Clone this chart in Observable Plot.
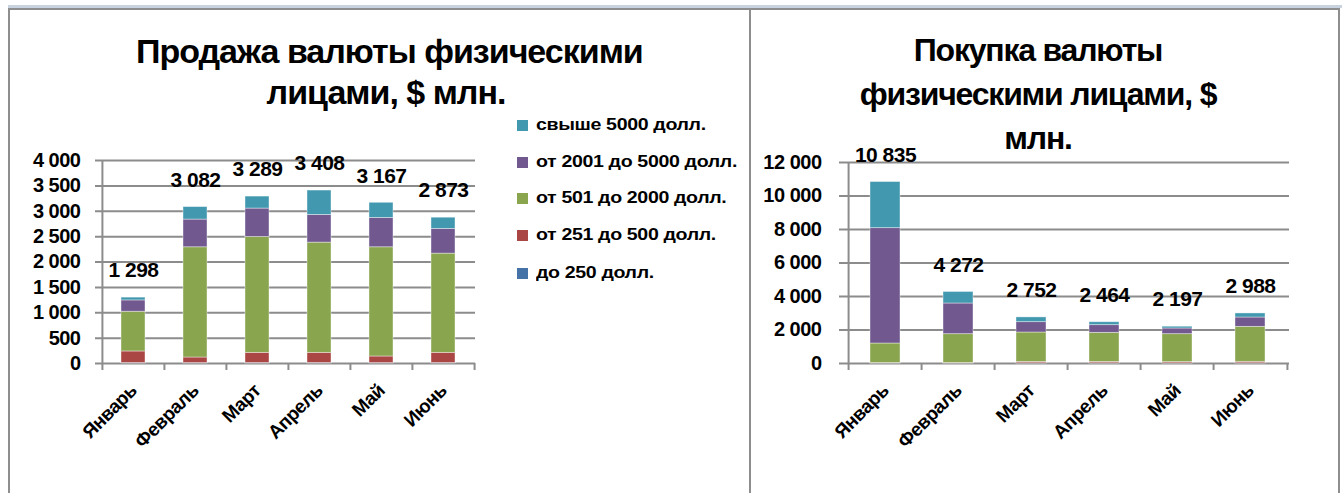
<!DOCTYPE html>
<html><head><meta charset="utf-8">
<script src="https://cdn.jsdelivr.net/npm/d3@7"></script>
<script src="https://cdn.jsdelivr.net/npm/@observablehq/plot@0.6"></script>
<style>
body{margin:0;background:#fff;}
#wrap{position:relative;width:1344px;height:493px;overflow:hidden;background:#fff;font-family:"Liberation Sans",Arial,sans-serif;font-weight:bold;color:#000;}
.ln{position:absolute;background:#8e8e8e;}
.title{position:absolute;text-align:center;white-space:nowrap;z-index:3;}
.panel{position:absolute;top:0;z-index:2;}
.panel svg text{letter-spacing:-0.5px;}
.item{position:absolute;left:517px;white-space:nowrap;font-size:17px;letter-spacing:-0.3px;height:24px;line-height:24px;z-index:1;}
.item .tx{display:inline-block;transform:scaleX(1.15);transform-origin:left center;}
.sw{display:inline-block;width:11px;height:11px;margin-right:8px;vertical-align:-1px;}
</style></head><body>
<div id="wrap">
  <div class="ln" style="left:8px;top:5px;width:1334px;height:3px;background:#c9d3e0"></div>
  <div class="ln" style="left:8px;top:8px;width:1332px;height:2px;z-index:4"></div>
  <div class="ln" style="left:8px;top:8px;width:2px;height:485px;z-index:4"></div>
  <div class="ln" style="left:749px;top:8px;width:2px;height:485px;z-index:4"></div>
  <div class="ln" style="left:1338px;top:8px;width:2px;height:485px;z-index:4"></div>
  <div class="title" style="left:136px;width:500px;top:31px;font-size:34px;line-height:41px;letter-spacing:-1px">Продажа валюты физическими<br>лицами, $ млн.</div>
  <div class="title" style="left:838px;width:400px;top:28px;font-size:32px;line-height:44px;letter-spacing:-1.2px">Покупка валюты<br>физическими лицами, $<br>млн.</div>
  <div id="left" class="panel" style="left:0px"></div>
  <div id="right" class="panel" style="left:752px"></div>
  <div id="legend"></div>
</div>
<script>
const months = ["Январь","Февраль","Март","Апрель","Май","Июнь"];
const series = ["до 250 долл.","от 251 до 500 долл.","от 501 до 2000 долл.","от 2001 до 5000 долл.","свыше 5000 долл."];
const colors = ["#4572A7","#AA4643","#89A54E","#71588F","#4198AF"];

// Продажа (sales), bottom to top
const sellUpTo250   = [10, 8, 10, 10, 8, 10];
const sell251to500  = [227, 110, 200, 200, 130, 200];
const sell501to2000 = [783, 2172, 2284, 2172, 2152, 1955];
const sell2001to5000= [223, 546, 559, 546, 579, 487];
const sellOver5000  = [55, 246, 236, 480, 298, 221];
const sellTotals    = [1298, 3082, 3289, 3408, 3167, 2873];

// Покупка (purchases)
const buyUpTo250    = [10, 10, 15, 15, 12, 15];
const buy251to500   = [20, 25, 80, 80, 70, 85];
const buy501to2000  = [1164, 1716, 1756, 1736, 1669, 2089];
const buy2001to5000 = [6886, 1831, 617, 458, 339, 557];
const buyOver5000   = [2755, 690, 284, 175, 107, 242];
const buyTotals     = [10835, 4272, 2752, 2464, 2197, 2988];

const sellTicks = [0, 500, 1000, 1500, 2000, 2500, 3000, 3500, 4000];
const buyTicks  = [0, 2000, 4000, 6000, 8000, 10000, 12000];

const fmt = d3.formatLocale({decimal:",", thousands:"\u00a0", grouping:[3], currency:["",""]}).format(",");
const FONT = '"Liberation Sans", Arial, sans-serif';

function panel({values, totals, ticks, width, ml, mr, mt, mb, pad, yPad}) {
  const H = 493;
  const data = [];
  values.forEach((vals, si) => vals.forEach((v, mi) => data.push({month: months[mi], series: series[si], value: v})));
  const plotW = width - ml - mr, plotH = H - mt - mb;
  const step = plotW / months.length;
  const grid = "#8c8c8c";
  return Plot.plot({
    width, height: H, marginLeft: ml, marginRight: mr, marginTop: mt, marginBottom: mb,
    style: {background: "transparent", overflow: "visible", fontFamily: FONT, fontWeight: "bold", color: "#000"},
    x: {domain: months, paddingInner: pad, paddingOuter: pad / 2, axis: null},
    y: {domain: [0, ticks[ticks.length - 1]], axis: null},
    color: {domain: series, range: colors},
    marks: [
      Plot.ruleY(ticks, {stroke: grid, strokeWidth: 2, insetLeft: -7}),
      Plot.ruleX(months.slice(1), {x: d => d, dx: -step / 2, stroke: grid, strokeWidth: 2, insetTop: plotH, insetBottom: -7}),
      Plot.ruleX([months[months.length - 1]], {x: d => d, dx: step / 2, stroke: grid, strokeWidth: 2, insetTop: plotH, insetBottom: -7}),
      Plot.ruleX([months[0]], {x: d => d, dx: -step / 2, stroke: grid, strokeWidth: 2, insetBottom: -7}),
      Plot.barY(data, {x: "month", y: "value", fill: "series", stroke: "#fff", strokeOpacity: 0.5, strokeWidth: 0.8}),
      Plot.text(totals, {x: (d, i) => months[i], y: d => d, text: d => fmt(d), dy: -27, fontSize: 21, fontWeight: "bold", fill: "#000"}),
      Plot.axisY(ticks, {tickSize: 0, tickPadding: yPad, tickFormat: fmt, fontSize: 20, fontWeight: "bold", fill: "#000", label: null}),
      Plot.axisX({tickSize: 0, tickRotate: -45, tickPadding: 24, fontSize: 19, fontWeight: "bold", fill: "#000", label: null})
    ]
  });
}

document.getElementById("left").append(panel({
  values: [sellUpTo250, sell251to500, sell501to2000, sell2001to5000, sellOver5000],
  totals: sellTotals, ticks: sellTicks, width: 500, ml: 102, mr: 25, mt: 160, mb: 130, pad: 0.61, yPad: 22
}));
document.getElementById("right").append(panel({
  values: [buyUpTo250, buy251to500, buy501to2000, buy2001to5000, buyOver5000],
  totals: buyTotals, ticks: buyTicks, width: 588, ml: 94, mr: 51, mt: 162, mb: 130, pad: 0.59, yPad: 25
}));

const legendTops = [113, 150, 186, 223, 261];
const lg = document.getElementById("legend");
series.slice().reverse().forEach((s, i) => {
  const d = document.createElement("div");
  d.className = "item";
  d.style.top = legendTops[i] + "px";
  const sw = document.createElement("span");
  sw.className = "sw";
  sw.style.background = colors[series.length - 1 - i];
  const tx = document.createElement("span");
  tx.className = "tx";
  tx.textContent = s;
  d.append(sw, tx);
  lg.append(d);
});
</script>
</body></html>
